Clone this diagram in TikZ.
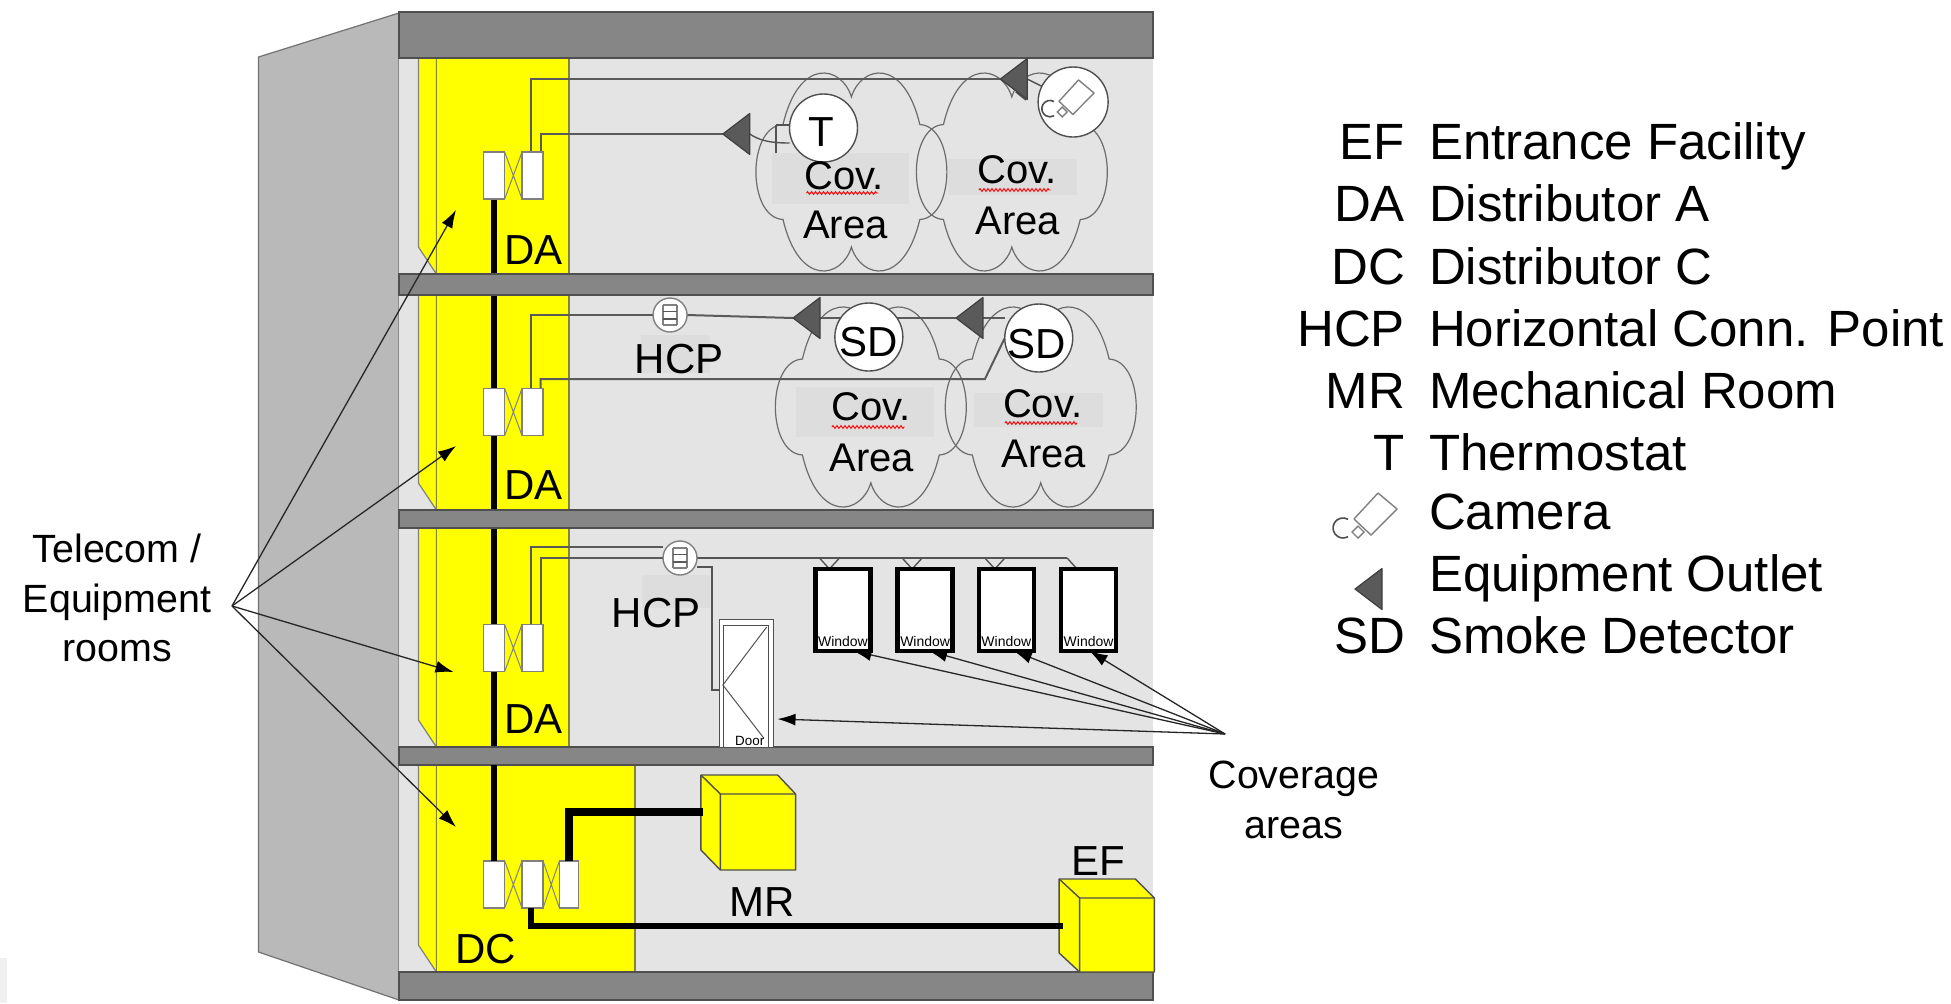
\documentclass[tikz,border=0pt]{standalone}
\usepackage{fontspec}
\setmainfont{Liberation Sans}
\usetikzlibrary{arrows.meta,decorations.pathmorphing,calc}
\pgfdeclarelayer{struct}
\pgfdeclarelayer{wires}
\pgfsetlayers{struct,wires,main}
\definecolor{wallgrey}{HTML}{B9B9B9}
\definecolor{floorgrey}{HTML}{E4E4E4}
\definecolor{bandgrey}{HTML}{868686}
\definecolor{edgegrey}{HTML}{4F4F4F}
\definecolor{patchgrey}{HTML}{DDDDDD}
\definecolor{outletgrey}{HTML}{5A5A5A}
\definecolor{cablegrey}{HTML}{5A5A5A}
\definecolor{ylw}{HTML}{FFFF00}
\tikzset{
  base/.style={inner sep=0pt,outer sep=0pt,anchor=base,text=black},
  txtbig/.style={base,font=\fontsize{25.5}{30}\selectfont},
  txtlegl/.style={txtbig,anchor=base east},
  txtlegr/.style={txtbig,anchor=base west},
  txtmid/.style={base,font=\fontsize{21}{25}\selectfont},
  txtcall/.style={base,font=\fontsize{19.7}{23}\selectfont},
  txtcov/.style={base,font=\fontsize{20}{24}\selectfont},
  txttiny/.style={base,font=\fontsize{7}{8}\selectfont},
  band/.style={fill=bandgrey,draw=edgegrey,line width=1pt},
  room/.style={fill=ylw,draw=edgegrey!70!ylw,line width=.7pt},
  sliver/.style={fill=ylw,draw=gray,line width=.6pt},
  riser/.style={line width=3pt,black},
  panel/.style={draw=gray,fill=white,line width=.7pt,minimum width=10.5pt,minimum height=23.5pt,inner sep=0pt,outer sep=0pt},
  xwire/.style={draw=gray,line width=.5pt},
  cable/.style={draw=cablegrey,line width=1pt},
  thinwire/.style={draw=gray!65!black,line width=.7pt},
  thickcable/.style={draw=black,line width=3.4pt},
  cloudline/.style={draw=gray!85!black,line width=.6pt},
  patch/.style={fill=patchgrey,draw=none},
  squig/.style={draw=red,line width=.45pt,decorate,decoration={zigzag,segment length=2pt,amplitude=.7pt}},
  device/.style={circle,draw=edgegrey,fill=white,line width=.7pt,minimum size=34pt,inner sep=0pt,outer sep=0pt},
  hcpdev/.style={circle,draw=gray,fill=white,line width=.7pt,minimum size=17pt,inner sep=0pt,outer sep=0pt},
  win/.style={draw=black,fill=white,line width=2.2pt,minimum width=27.5pt,minimum height=41pt,inner sep=0pt,outer sep=0pt},
  doorbox/.style={draw=edgegrey,fill=white,line width=.6pt,minimum width=27pt,minimum height=64pt,inner sep=0pt,outer sep=0pt},
  pointer/.style={draw=black!85,line width=.65pt,-{Latex[length=9pt,width=6pt,black]}},
  box/.style={fill=ylw,draw=edgegrey,line width=.7pt,line join=round},
}
\newcommand{\cloudat}[4]{%
  \begin{scope}[shift={(#1,#2)},x=#3*0.5pt,y=-#4*0.5pt]
    \draw[cloudline] (0,-.79)
      .. controls (-.1,-1.12) and (-.55,-1.22) .. (-.72,-.5)
      .. controls (-1.1,-.48) and (-1.1,.48) .. (-.72,.5)
      .. controls (-.55,1.22) and (-.1,1.12) .. (0,.79)
      .. controls (.1,1.12) and (.55,1.22) .. (.72,.5)
      .. controls (1.1,.48) and (1.1,-.48) .. (.72,-.5)
      .. controls (.55,-1.22) and (.1,-1.12) .. (0,-.79) -- cycle;
  \end{scope}}
\newcommand{\outlet}[3]{%
  \coordinate (#1) at (#2,#3);
  \draw[fill=outletgrey,draw=outletgrey!70!black,line width=.6pt,line join=round]
    (#2,#3) -- ++(27,-20.5) -- ++(0,41) -- cycle;
  \coordinate (#1b) at ($(#2,#3)+(27,0)$);}
\newcommand{\cameraicon}[3]{%
  \begin{scope}[shift={(#1,#2)},scale=#3]
    \draw[draw=gray,fill=white,line width=.7pt,line join=round] (1378,493) -- (1397,509) -- (1371,535) -- (1354,519) -- cycle;
    \draw[draw=gray,line width=.7pt] (1358,526) -- (1364,532) -- (1358,538) -- (1352,532) -- cycle;
    \draw[draw=edgegrey,line width=.8pt] (1348,519.3) arc[start angle=-60,end angle=-300,radius=10];
  \end{scope}}
\newcommand{\hcpinner}[1]{%
  \draw[draw=gray,line width=.8pt] ([xshift=-3.5pt,yshift=5pt]#1.center) -- ++(0,-10pt) ([xshift=3.5pt,yshift=5pt]#1.center) -- ++(0,-10pt);
  \draw[draw=gray,line width=.8pt] ([xshift=-3.5pt,yshift=5pt]#1.center) -- ++(7pt,0) ([xshift=-3.5pt,yshift=-5pt]#1.center) -- ++(7pt,0);
  \draw[draw=gray!70!black,line width=.9pt] ([xshift=-3.5pt,yshift=1.8pt]#1.center) -- ++(7pt,0) ([xshift=-3.5pt,yshift=-1.8pt]#1.center) -- ++(7pt,0);}
\begin{document}
\begin{tikzpicture}[x=0.5pt,y=-0.5pt]
\useasboundingbox (0,0) rectangle (1951,1003);
\begin{pgfonlayer}{struct}
\fill[white] (0,0) rectangle (1951,1003);
\fill[black!6!white] (0,958) rectangle (7,1003);
\end{pgfonlayer}
\begin{scope}[x=0.49825pt,xshift=0.7pt]
\begin{pgfonlayer}{struct}
% outer wall and floors
\fill[wallgrey,draw=edgegrey!80!white,line width=.6pt] (258,57) -- (399,13) -- (399,1000) -- (258,952) -- cycle;
\fill[floorgrey] (399,12) rectangle (1156,1000);
% yellow rooms
\foreach \ya/\yb/\xr in {58/274/569.5,295/510/569.5,528/747/569.5,765/972/636}{
  \draw[sliver] (418.5,\ya) -- (436.5,\ya) -- (436.5,\yb) -- (418.5,\yb-27) -- cycle;
  \draw[room] (436.5,\ya) rectangle (\xr,\yb);
}
% risers
\draw[riser] (494.5,199) -- (494.5,861);
% bands
\foreach \ya/\yb in {12/58,274/295,510/528,747/765,972/1000}{
  \draw[band] (399,\ya) rectangle (1156,\yb);
}
% text patches
\foreach \xa/\ya/\xb/\yb in {773/153/911/204,950/159/1079/195,797/387/936/437,976/393/1105/427,642/335/711/373,642.5/575/711/608}{
  \fill[patch] (\xa,\ya) rectangle (\xb,\yb);
}
% clouds
\cloudat{853}{172}{95}{95}
\cloudat{1014}{172}{95}{95}
\cloudat{872.5}{407}{95}{96}
\cloudat{1043}{407}{95}{96}
\end{pgfonlayer}
% patch panels
\foreach \n/\y in {4/175.5,3/412,2/648}{
  \node[panel] (pa\n) at (494.5,\y) {};
  \node[panel] (pb\n) at (533,\y) {};
  \draw[xwire] (pa\n.north east) -- (pb\n.south west) (pa\n.south east) -- (pb\n.north west);
}
\node[panel] (pa1) at (494.5,884.5) {};
\node[panel] (pb1) at (533,884.5) {};
\node[panel,minimum width=9.5pt] (pc1) at (569.5,884.5) {};
\draw[xwire] (pa1.north east) -- (pb1.south west) (pa1.south east) -- (pb1.north west);
\draw[xwire] (pb1.north east) -- (pc1.south west) (pb1.south east) -- (pc1.north west);
% top floor
\outlet{outA}{1002.5}{79}
\outlet{outB}{724}{134}
\node[device] (dT) at (825,128) {};
\node[device,minimum size=35pt] (dCam) at (1075.5,102) {};
\begin{pgfonlayer}{wires}
\draw[cable] ([xshift=-.75pt]pb4.north) |- (outA);
\draw[cable] ([xshift=4pt]pb4.north) |- (outB);
\draw[thinwire] (outAb) -- (dCam);
\draw[thinwire] (1018,92) -- (1028,100);
\draw[thinwire] (outBb) .. controls (760,140) and (770,143) .. (dT.west |- 0,143);
\draw[thinwire] (777.5,125) -- (777.5,153);
\draw[thinwire] (777.5,125) -- (795,125);
\end{pgfonlayer}
\cameraicon{-49}{-324.3}{.82}
\node[txtmid] (tT) at (823,146) {T};
% second floor
\node[hcpdev] (hcpA) at (671,315) {};
\hcpinner{hcpA}
\outlet{outC}{794.5}{318}
\outlet{outD}{958}{318}
\node[device] (dSDa) at (870.5,337) {};
\node[device] (dSDb) at (1041,338) {};
\begin{pgfonlayer}{wires}
\draw[cable] ([xshift=-.75pt]pb3.north) |- (hcpA.west);
\draw[cable] (hcpA.east) -- (outC);
\draw[cable] (outCb) -- (outD);
\draw[cable] (outDb) -- (dSDb.west |- outDb);
\draw[cable] ([xshift=4pt]pb3.north) |- (987,379) -- (dSDb.west);
\end{pgfonlayer}
\node[txtmid] (tSDa) at (870,356) {SD};
\node[txtmid] (tSDb) at (1039,358) {SD};
\node[txtmid] (tHa) at (680,373) {HCP};
% third floor
\node[hcpdev] (hcpB) at (681,558) {};
\hcpinner{hcpB}
\foreach \n/\x in {1/844.5,2/927,3/1008.5,4/1091}{
  \node[win] (w\n) at (\x,610) {};
}
\node[doorbox] (door) at (747.75,683.5) {};
\draw[draw=edgegrey,line width=.5pt] (725,625) rectangle (770,747);
\draw[thinwire,line width=.5pt] (768,627) -- (724,685) -- (765,738);
\begin{pgfonlayer}{wires}
\draw[cable] ([xshift=-.75pt]pb2.north) |- ([yshift=5.5pt]hcpB.west);
\draw[cable] ([xshift=4pt]pb2.north) |- (hcpB.west);
\draw[thinwire] (hcpB.east) -- (1069,558);
\foreach \n/\s in {1/-6.75,2/-6.5,3/-5.75}{
  \draw[thinwire] ([xshift=\s pt]w\n.north) -- ++(-10,-11) ([xshift=\s pt]w\n.north) -- ++(10,-11);
}
\draw[thinwire] ([xshift=-5.75pt]w4.north) -- ++(-10,-11);
\draw[thinwire] ([yshift=-4.5pt]hcpB.east) -- ++(15,0) |- ([yshift=-3.25pt]door.west);
\end{pgfonlayer}
\foreach \n/\x in {1/844.5,2/927,3/1008.5,4/1091}{
  \node[txttiny] (tw\n) at (\x,646) {Window};
}
\node[txttiny,font=\fontsize{6.7}{8}\selectfont] (tDoor) at (751,745) {Door};
\node[txtmid] (tHb) at (657,627) {HCP};
% ground floor
\draw[riser] (494.5,765) -- (pa1.north);
\draw[box] (702,775) -- (779,775) -- (797,794) -- (797,870) -- (721.5,870) -- (702,850) -- cycle;
\draw[box] (721.5,794) -- (797,794) (721.5,794) -- (702,775) (721.5,794) -- (721.5,870);
\coordinate (mrIn) at (704.5,812);
\draw[box] (1061.5,879) -- (1138,879) -- (1157,898) -- (1157,972) -- (1082,972) -- (1061.5,953) -- cycle;
\draw[box] (1082,898) -- (1157,898) (1082,898) -- (1061.5,879) (1082,898) -- (1082,972);
\coordinate (efIn) at (1065,926);
\draw[thickcable,line width=4pt] (pc1.north) |- (mrIn);
\draw[thickcable,line width=3pt] ([xshift=-.75pt]pb1.south) |- (efIn);
\node[txtmid] (tMR) at (763,916) {MR};
\node[txtmid] (tEF) at (1101,875) {EF};
% room labels
\node[txtmid] (tDA4) at (534,264) {DA};
\node[txtmid] (tDA3) at (534,499) {DA};
\node[txtmid] (tDA2) at (534,733) {DA};
\node[txtmid] (tDC) at (486,963) {DC};
% coverage area labels
\foreach \n/\xa/\ya/\xb/\yb/\sa/\sb/\sy in {
  a/846/189/847/238/808/880/193,
  b/1019/183/1020/234/981/1053/190,
  c/872.5/420/873.5/471/833.5/906.5/427,
  d/1045/417/1046/467/1007/1079.5/423}{
  \node[txtcov] (tCov\n) at (\xa,\ya) {Cov.};
  \node[txtcov] (tArea\n) at (\xb,\yb) {Area};
  \draw[squig] (\sa,\sy) -- (\sb,\sy);
}
% callouts
\coordinate (covSrc) at (1228,734);
\draw[pointer] (covSrc) -- ([xshift=5.25pt]w1.south);
\draw[pointer] (covSrc) -- ([xshift=2pt]w2.south);
\draw[pointer] (covSrc) -- ([xshift=3.75pt]w3.south);
\draw[pointer] (covSrc) -- ([xshift=.5pt]w4.south);
\draw[pointer] (covSrc) -- ([xshift=2pt,yshift=-17.75pt]door.east);
\end{scope}
\node[txtcall] (tTel1) at (117,562) {Telecom /};
\node[txtcall] (tTel2) at (117,612) {Equipment};
\node[txtcall] (tTel3) at (117,661) {rooms};
\coordinate (telSrc) at (232,606);
\foreach \x/\y in {456/210,456/446,453.5/672,456/827}{
  \draw[pointer] (telSrc) -- (\x,\y);
}
\node[txtcall] (tCv1) at (1294,788) {Coverage};
\node[txtcall] (tCv2) at (1294,838) {areas};
% legend
\foreach \n/\y/\a/\b in {1/159/EF/Entrance Facility,2/221.5/DA/Distributor A,3/284/DC/Distributor C,4/346/HCP/Horizontal Conn. Point,5/408/MR/Mechanical Room,6/470/T/Thermostat,9/653/SD/Smoke Detector}{
  \node[txtlegl] (la\n) at (1405,\y) {\a};
  \node[txtlegr] (lb\n) at (1429,\y) {\b};
}
\cameraicon{0}{0}{1}
\node[txtlegr] (lb7) at (1429,529) {Camera};
\outlet{lgOut}{1355}{589}
\node[txtlegr] (lb8) at (1429,591) {Equipment Outlet};
\end{tikzpicture}
\end{document}
